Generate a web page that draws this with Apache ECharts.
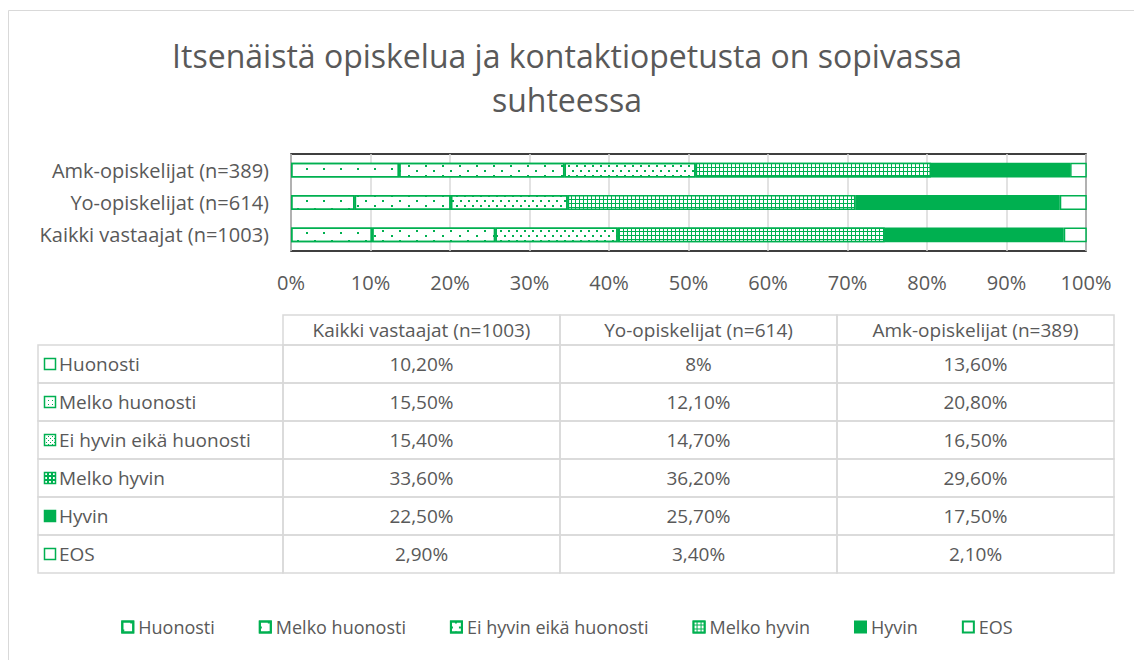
<!DOCTYPE html>
<html>
<head>
<meta charset="utf-8">
<script src="https://cdn.jsdelivr.net/npm/echarts@6/dist/echarts.min.js"></script>
<style>
html, body { margin: 0; padding: 0; background: #fff; }
#chart { width: 1134px; height: 660px; }
</style>
</head>
<body>
<div id="chart"></div>
<script>
// data
var categories = ['Kaikki vastaajat (n=1003)', 'Yo-opiskelijat (n=614)', 'Amk-opiskelijat (n=389)'];
var seriesNames = ['Huonosti', 'Melko huonosti', 'Ei hyvin eikä huonosti', 'Melko hyvin', 'Hyvin', 'EOS'];
var huonosti = [10.2, 8, 13.6];
var melkoHuonosti = [15.5, 12.1, 20.8];
var eiHyvinEikaHuonosti = [15.4, 14.7, 16.5];
var melkoHyvin = [33.6, 36.2, 29.6];
var hyvin = [22.5, 25.7, 17.5];
var eos = [2.9, 3.4, 2.1];
var values = [huonosti, melkoHuonosti, eiHyvinEikaHuonosti, melkoHyvin, hyvin, eos];

var GREEN = '#00B050';
var TEXT = '#595959';
var FONT = '"Open Sans"';

// fills: white + green dot decals of growing density
var fills = [
    {color: '#fff', decal: {symbol: 'rect', symbolSize: 1, color: GREEN, dashArrayX: [[2, 15], [0, 8, 2, 7]], dashArrayY: [2, 6]}},
    {color: '#fff', decal: {symbol: 'rect', symbolSize: 1, color: GREEN, dashArrayX: [[2, 15], [0, 8, 2, 7]], dashArrayY: [2, 3]}},
    {color: '#fff', decal: {symbol: 'rect', symbolSize: 1, color: GREEN, dashArrayX: [[2, 6], [0, 4, 2, 2]], dashArrayY: [2, 3]}},
    {color: GREEN, decal: {symbol: 'rect', symbolSize: 1, color: '#fff', dashArrayX: [[3, 1]], dashArrayY: [3, 1]}},
    {color: GREEN, decal: null},
    {color: '#fff', decal: null}
];

// little tiles for the keys in the table
function keyTile(i) {
    var c = document.createElement('canvas');
    c.width = 4; c.height = 4;
    var ctx = c.getContext('2d');
    ctx.fillStyle = fills[i].color;
    ctx.fillRect(0, 0, 4, 4);
    ctx.fillStyle = GREEN;
    if (i === 1) { ctx.fillRect(0, 0, 1, 1); }
    if (i === 2) { ctx.fillRect(0, 0, 1, 1); ctx.fillRect(2, 2, 1, 1); }
    if (i === 3) { ctx.fillStyle = '#fff'; ctx.fillRect(1, 1, 2, 2); }
    return {image: c, repeat: 'repeat', imageWidth: 4, imageHeight: 4};
}

function fmt(v) {
    if (Math.round(v) === v) return v + '%';
    return v.toFixed(2).replace('.', ',') + '%';
}

var chart = echarts.init(document.getElementById('chart'), null, {renderer: 'svg'});

// table under the plot
var tableLeft = 38, labelW = 245, colW = 277, headTop = 315, headH = 30, rowH = 38;
var tableFont = '19px ' + FONT;
var colOrder = [0, 1, 2];
var table = [];
colOrder.forEach(function(c, j) {
    var x = tableLeft + labelW + j * colW;
    table.push({type: 'rect', shape: {x: x, y: headTop, width: colW, height: headH},
        style: {fill: 'none', stroke: '#D9D9D9', lineWidth: 1.5}});
    table.push({type: 'text', x: x + colW / 2, y: headTop + headH / 2,
        style: {text: categories[c], fill: TEXT, font: tableFont, align: 'center', verticalAlign: 'middle'}});
});
seriesNames.forEach(function(name, i) {
    var y = headTop + headH + i * rowH;
    table.push({type: 'rect', shape: {x: tableLeft, y: y, width: labelW, height: rowH},
        style: {fill: 'none', stroke: '#D9D9D9', lineWidth: 1.5}});
    table.push({type: 'rect', shape: {x: tableLeft + 6.5, y: y + rowH / 2 - 5.5, width: 11, height: 11},
        style: {fill: i === 4 ? GREEN : (i === 5 || i === 0 ? '#fff' : keyTile(i)), stroke: GREEN, lineWidth: 1.5}});
    table.push({type: 'text', x: tableLeft + 21, y: y + rowH / 2,
        style: {text: name, fill: TEXT, font: tableFont, align: 'left', verticalAlign: 'middle'}});
    colOrder.forEach(function(c, j) {
        var x = tableLeft + labelW + j * colW;
        table.push({type: 'rect', shape: {x: x, y: y, width: colW, height: rowH},
            style: {fill: 'none', stroke: '#D9D9D9', lineWidth: 1.5}});
        table.push({type: 'text', x: x + colW / 2, y: y + rowH / 2,
            style: {text: fmt(values[i][c]), fill: TEXT, font: tableFont, align: 'center', verticalAlign: 'middle'}});
    });
});

var option = {
    animation: false,
    backgroundColor: '#fff',
    title: {
        text: 'Itsenäistä opiskelua ja kontaktiopetusta on sopivassa\nsuhteessa',
        left: 'center',
        top: 28,
        textStyle: {fontFamily: FONT, fontSize: 32, fontWeight: 'normal', color: TEXT, lineHeight: 44}
    },
    grid: {
        left: 291, right: 48, top: 154, bottom: 409,
        show: true, borderColor: '#000', borderWidth: 1.5
    },
    xAxis: {
        type: 'value', min: 0, max: 100, interval: 10,
        axisLine: {show: false},
        axisTick: {show: false},
        splitLine: {lineStyle: {color: '#D9D9D9', width: 1.5}},
        axisLabel: {formatter: '{value}%', fontFamily: FONT, fontSize: 20, color: TEXT, margin: 21}
    },
    yAxis: {
        type: 'category', data: categories,
        axisLine: {show: false},
        axisTick: {show: false},
        axisLabel: {fontFamily: FONT, fontSize: 20, color: TEXT, margin: 22}
    },
    legend: {
        data: seriesNames,
        bottom: 19,
        icon: 'rect',
        itemWidth: 11, itemHeight: 11, itemGap: 44,
        textStyle: {fontFamily: FONT, fontSize: 18, color: TEXT}
    },
    series: seriesNames.map(function(name, i) {
        return {
            name: name,
            type: 'bar',
            stack: 'all',
            barWidth: '46%',
            data: values[i],
            itemStyle: {color: fills[i].color, borderColor: GREEN, borderWidth: 1.5, decal: fills[i].decal}
        };
    }),
    graphic: [
        {type: 'rect', shape: {x: 8.5, y: 10.5, width: 1140, height: 700}, style: {fill: 'none', stroke: '#D9D9D9', lineWidth: 1}, silent: true},
        {type: 'group', children: table}
    ]
};
chart.setOption(option);
</script>
</body>
</html>
